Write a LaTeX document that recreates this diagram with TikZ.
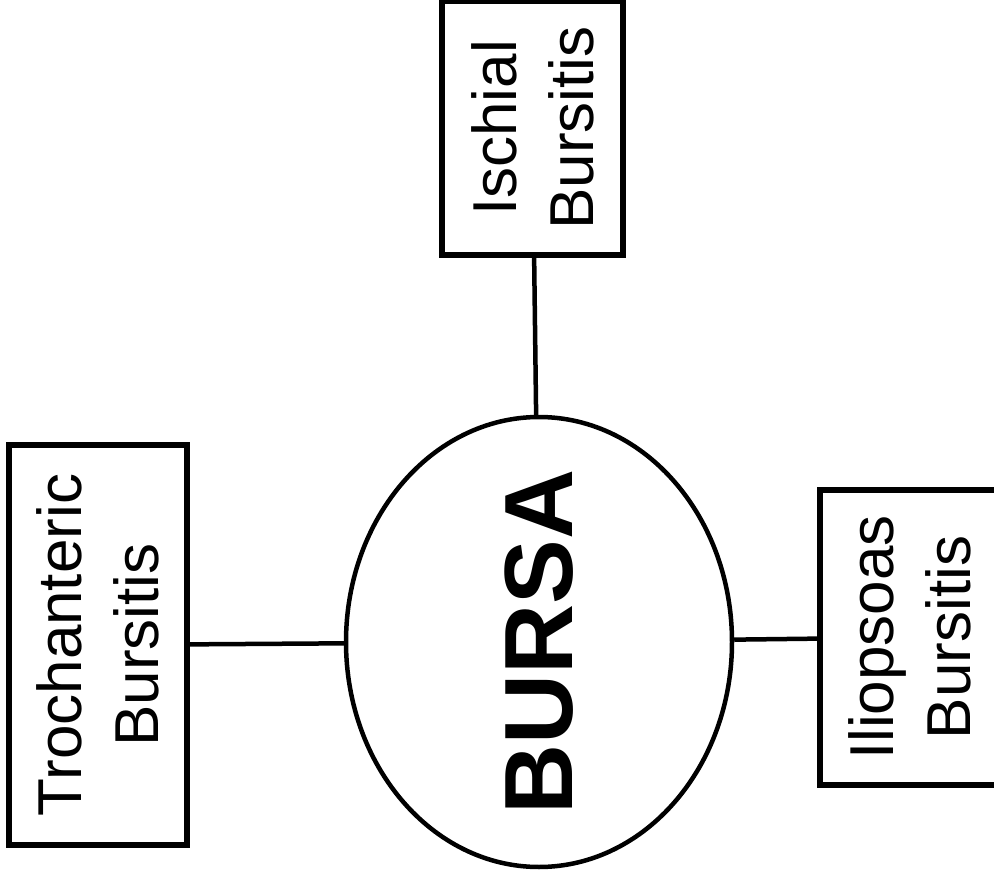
\documentclass[tikz,border=0pt]{standalone}
\usepackage{fontspec}
\setmainfont{Liberation Sans}
\usetikzlibrary{shapes.geometric}
\begin{document}
\begin{tikzpicture}[x=1pt,y=-1pt,line width=4.5pt,draw=black!100]
	\def \toprow{128}
	\def \midrow{642}
	\tikzstyle{b-node}=[rectangle,draw=black!100,line width=5.5pt,rotate=90,align=center,inner sep=0pt,font=\fontsize{62}{77}\selectfont]
	\tikzstyle{c-node}=[ellipse,draw=black!100,line width=4.5pt,inner sep=0pt,minimum width=386pt,minimum height=450pt]
	\tikzstyle{c-text}=[rotate=90,inner sep=0pt,font=\fontsize{97}{110}\selectfont\bfseries]
	\useasboundingbox (0,0) rectangle (994,880);
	\clip (0,0) rectangle (994,880);
	
	% centre
	\node[c-node,label={[c-text]center:BURSA}] 	(bursa)	at (539,\midrow)	{};
	
	% bursitis boxes
	\node[b-node,minimum width=254pt,minimum height=181pt] 	(ischial)	at (532.5,\toprow)	{Ischial\\Bursitis};
	\node[b-node,minimum width=400pt,minimum height=178pt] 	(trochanteric)	at (98,645)	{Trochanteric\\Bursitis};
	\node[b-node,minimum width=295pt,minimum height=180pt] 	(iliopsoas)	at (910,637.5)	{Iliopsoas\\Bursitis};
	
	\path 
		(ischial)	edge	(bursa)
		(trochanteric)	edge	(bursa)
		(iliopsoas)	edge	(bursa);
		
\end{tikzpicture}
\end{document}
